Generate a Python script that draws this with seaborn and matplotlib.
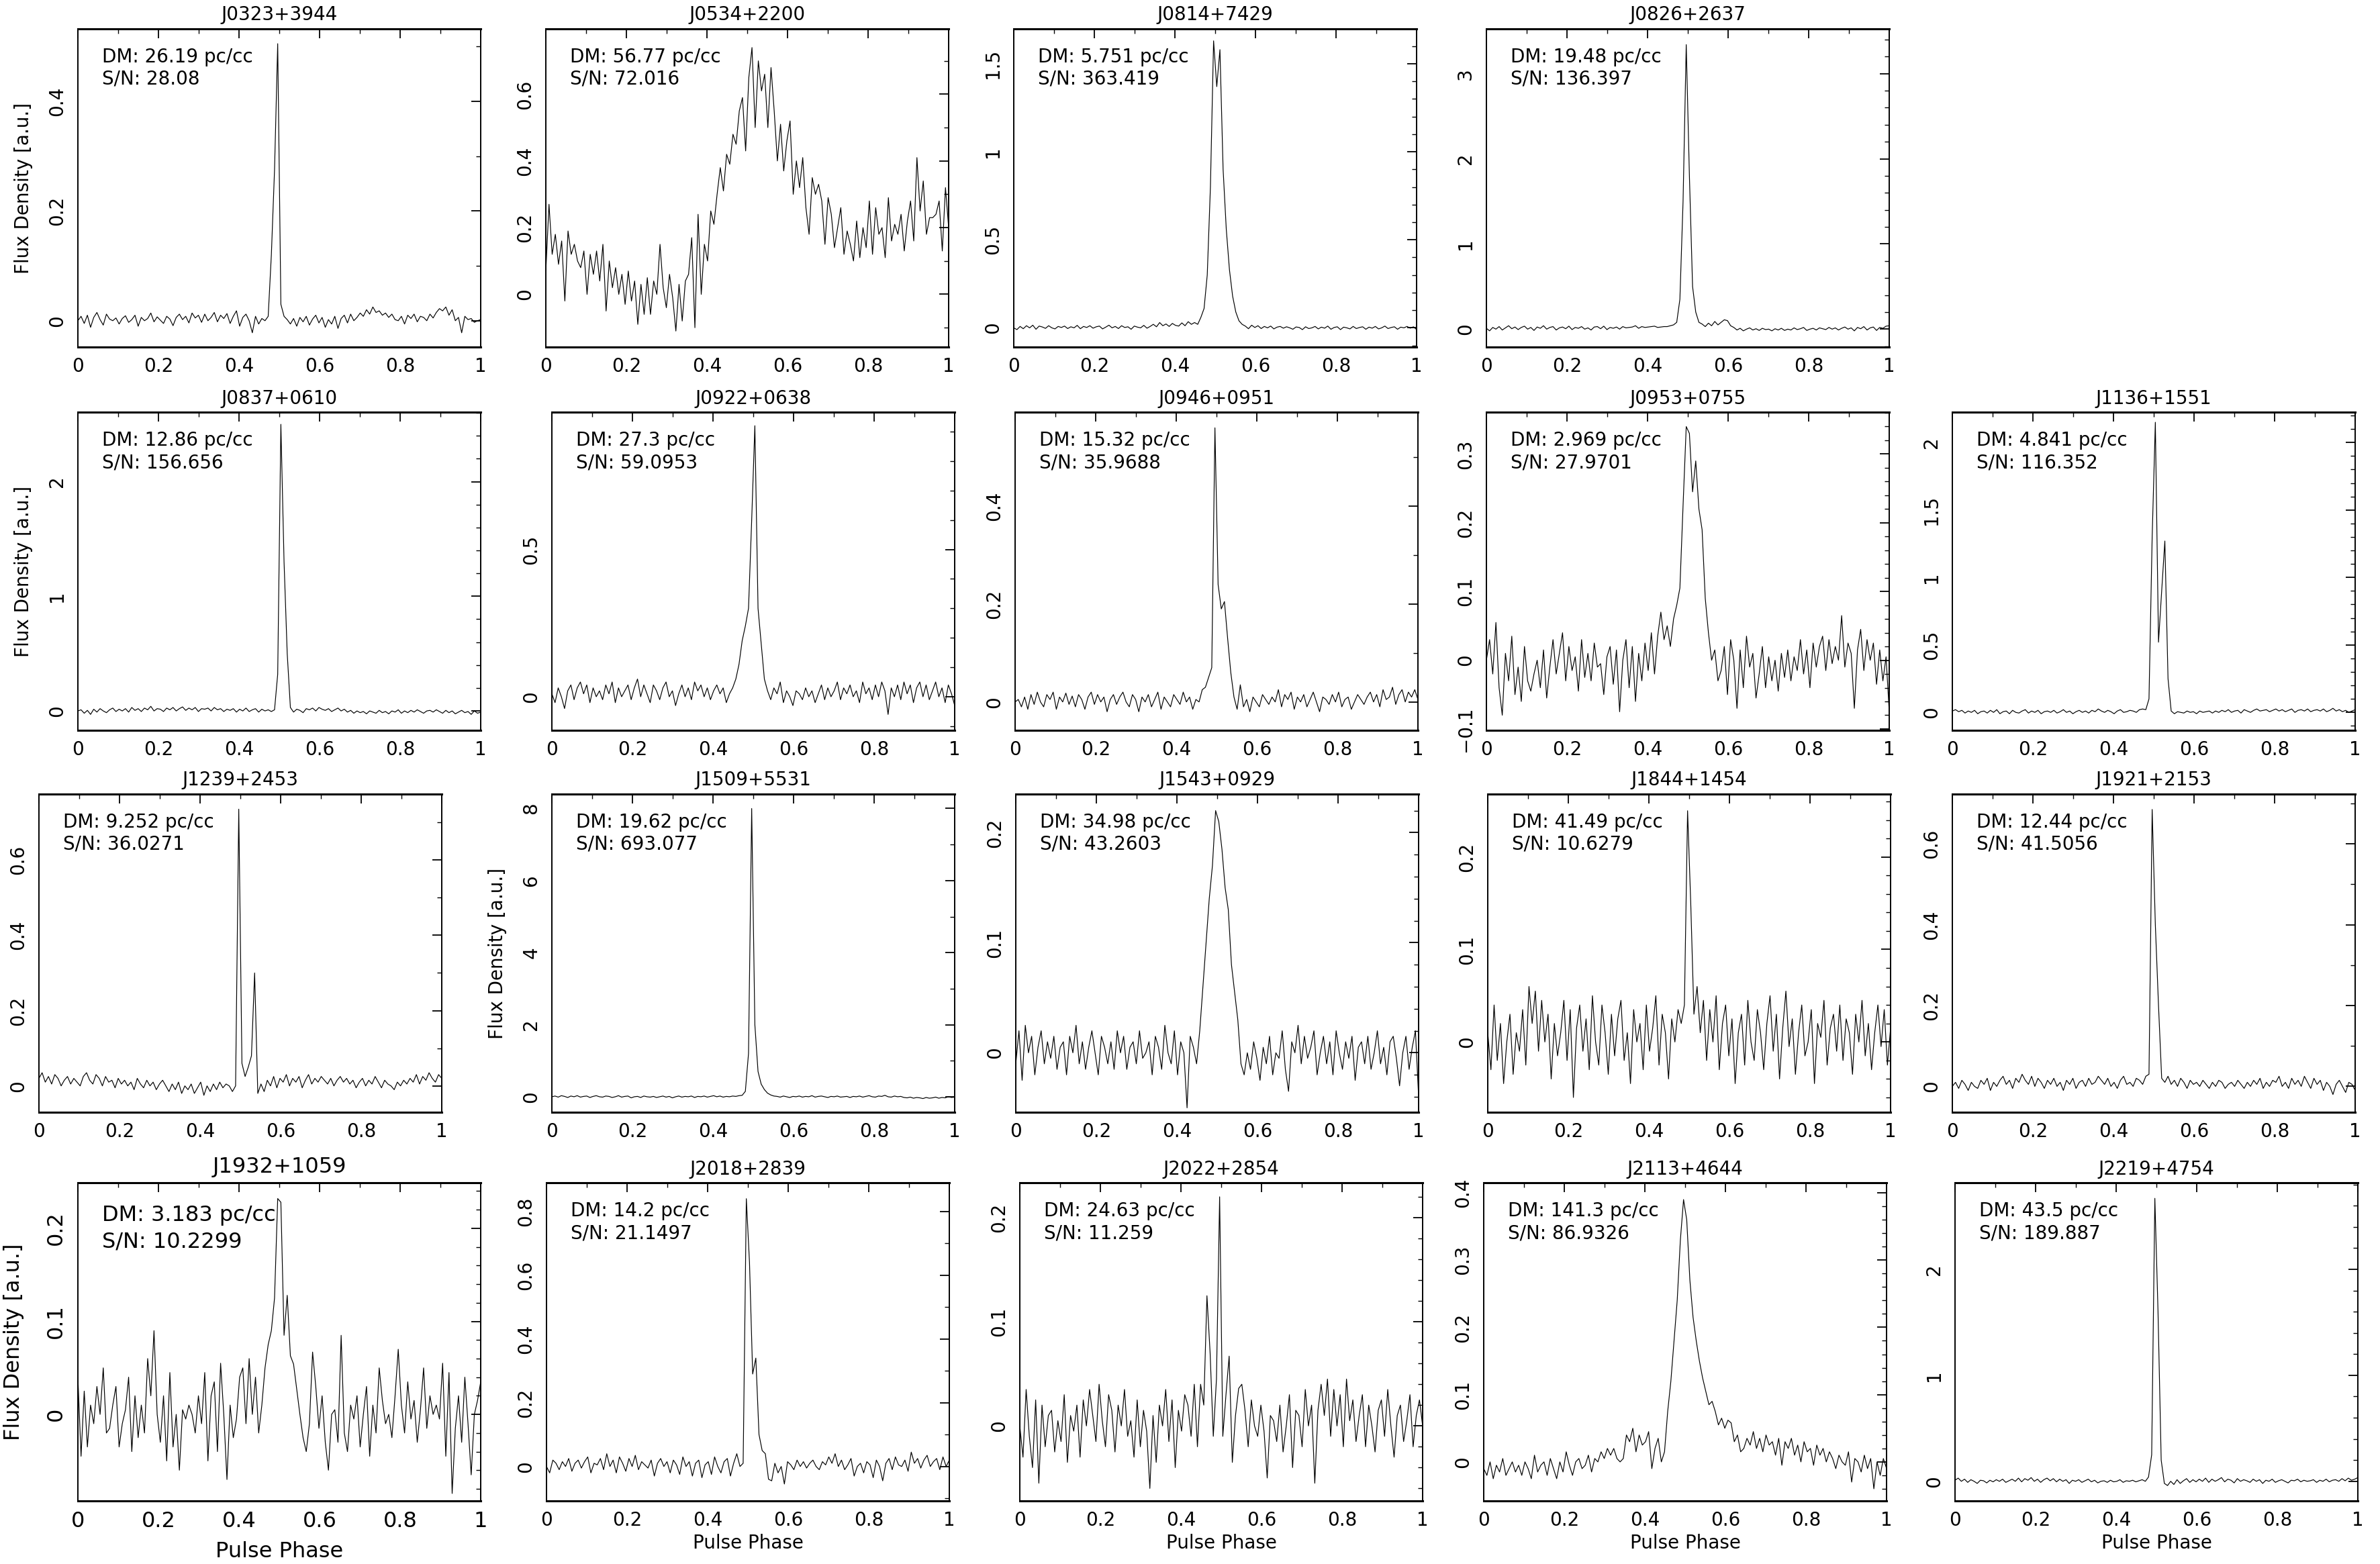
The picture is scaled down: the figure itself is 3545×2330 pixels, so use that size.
import numpy as np
import pandas as pd
import matplotlib
matplotlib.use("Agg")
import matplotlib.pyplot as plt
import seaborn as sns
from matplotlib.ticker import MultipleLocator, FuncFormatter

# pulsar names and the numbers printed inside each panel
names = ['J0323+3944', 'J0534+2200', 'J0814+7429', 'J0826+2637',
         'J0837+0610', 'J0922+0638', 'J0946+0951', 'J0953+0755', 'J1136+1551',
         'J1239+2453', 'J1509+5531', 'J1543+0929', 'J1844+1454', 'J1921+2153',
         'J1932+1059', 'J2018+2839', 'J2022+2854', 'J2113+4644', 'J2219+4754']
dm_vals = ['26.19', '56.77', '5.751', '19.48',
           '12.86', '27.3', '15.32', '2.969', '4.841',
           '9.252', '19.62', '34.98', '41.49', '12.44',
           '3.183', '14.2', '24.63', '141.3', '43.5']
snr_vals = ['28.08', '72.016', '363.419', '136.397',
            '156.656', '59.0953', '35.9688', '27.9701', '116.352',
            '36.0271', '693.077', '43.2603', '10.6279', '41.5056',
            '10.2299', '21.1497', '11.259', '86.9326', '189.887']

# folded profiles, 128 phase bins, flux density in units of 0.001 a.u.
prof_J0323 = [0, 8, -5, 10, -12, 6, 15, 2, -8, 12, 3, 0, 5, -6, 4, 9,
              -3, 2, 10, -10, 6, 0, 4, 14, -2, 7, 1, -5, 8, 3, -9, 6,
              12, 2, 8, -4, 14, 5, 10, -3, 12, 0, 6, 15, -2, 10, 4, 13,
              -5, 8, 18, -10, 6, 12, 0, -22, 8, -6, 4, 0, 8, 120, 275, 505,
              30, 8, 2, -6, 4, -10, 6, -2, 8, -8, 3, 10, -4, 6, -12, 2,
              -6, 8, -14, 4, 10, -4, 12, 0, 6, 14, 8, 20, 12, 25, 15, 18,
              10, 14, 6, 12, 2, 0, 8, -6, 10, 4, 12, -2, 8, 6, 0, 12,
              5, 15, 22, 18, 25, 10, 20, 0, 6, -22, 8, 2, 4, -3, 0, 2]
prof_J0534 = [70, 270, 120, 180, 90, 160, -20, 190, 120, 150, 100, 80, 130, 0, 120, 60,
              130, 40, 150, -50, 100, 20, 80, 0, 60, -30, 70, -20, 40, -90, 30, -60,
              50, -60, 40, 0, 150, 20, -40, 60, -10, -110, 30, -80, 40, 60, 170, -100,
              240, 0, 150, 100, 250, 210, 300, 380, 310, 420, 390, 480, 450, 550, 590, 430,
              650, 740, 500, 700, 610, 660, 500, 680, 550, 400, 510, 370, 460, 520, 300, 400,
              320, 410, 260, 180, 350, 300, 330, 280, 150, 290, 240, 140, 200, 260, 120, 190,
              150, 100, 220, 110, 200, 140, 280, 120, 260, 180, 200, 110, 290, 160, 210, 180,
              240, 130, 220, 280, 160, 410, 250, 340, 180, 230, 230, 240, 280, 130, 320, 200]
prof_J0814 = [0, -10, 8, -5, 12, 0, 15, -8, 10, 5, -3, 12, 0, -6, 8, 2,
              10, -4, 6, 0, 14, -5, 8, 2, 12, -2, 6, 10, -6, 4, 15, 0,
              8, -4, 12, 2, 6, -8, 10, 4, 0, 14, -2, 8, 20, 6, 30, 12,
              22, 8, 25, 14, 10, 28, 12, 35, 20, 30, 20, 60, 110, 300, 800, 1630,
              1370, 1580, 900, 560, 330, 180, 90, 40, 20, 10, -5, 15, 2, 12, -4, 8,
              0, 10, -6, 4, 8, -2, 6, 0, -8, 5, 2, -10, 6, -4, 0, 8,
              -6, 4, -2, 10, -8, 2, 6, -10, 4, 0, -6, 8, -4, 2, 6, -8,
              4, -2, 8, -6, 0, 10, -4, 2, 6, -8, 4, 0, 8, -2, 6, -10]
prof_J0826 = [10, -20, 20, 0, 30, -10, 15, 40, 5, 25, -5, 20, 35, 0, 20, -15,
              25, 10, 40, 0, 20, 30, -10, 15, 25, 5, 35, -5, 20, 10, 30, 0,
              15, -10, 25, 30, 5, 35, -5, 20, 10, 25, 0, 30, 15, 20, 25, 40,
              10, 30, 20, 25, 30, 35, 20, 25, 30, 30, 40, 50, 80, 350, 1500, 3340,
              1800, 500, 200, 80, 60, 30, 70, 40, 90, 50, 80, 110, 100, 40, 20, -10,
              10, -20, 0, 15, -10, 5, -15, 10, -5, 0, -20, 5, -10, 10, -15, 0,
              -10, 15, -5, 5, 20, -15, 0, 10, -10, 15, 5, -5, 20, 0, 15, -10,
              10, 25, 0, 15, -20, 20, 5, 30, -10, 15, 25, -15, 20, 10, 35, 40]
prof_J0837 = [0, 10, -20, 5, -30, 15, -10, 20, 0, -15, 10, 25, -5, 15, 0, 20,
              -10, 30, 5, 20, -5, 25, 10, 40, 0, 20, 15, -5, 25, 10, 30, 0,
              20, 35, 5, 25, 10, 30, -5, 20, 15, 25, 0, 30, 10, 20, -5, 15,
              5, 20, -10, 15, 0, 25, -5, 10, 20, -10, 15, 0, 10, -5, 10, 320,
              2500, 1300, 500, 30, -10, 15, 5, -15, 20, 10, 25, 0, 30, 15, 5, 20,
              -5, 10, 25, 0, 15, -10, 5, -20, 0, -15, -5, -25, 0, -10, -20, 5,
              -15, -5, -25, 0, -10, 10, -20, 0, -15, 5, -10, 10, -5, -20, 0, 5,
              -10, 10, -5, -20, 5, -15, 0, -25, -10, 5, -15, -5, -30, 0, -20, -10]
prof_J0922 = [10, -20, 30, 0, -40, 20, 40, -10, 30, 50, 10, 40, -20, 30, 0, 20,
              -10, 40, 10, 50, -20, 30, 0, 20, 40, -10, 30, 60, 0, 40, 10, -20,
              40, 20, -10, 30, 50, 0, 20, -30, 10, 40, 0, 30, -10, 50, 20, 40,
              0, 30, -10, 20, 40, 10, 30, -20, 10, 30, 60, 110, 190, 240, 300, 600,
              920, 300, 180, 60, 20, -10, 30, 10, 50, -20, 20, 0, -30, 20, 10, -10,
              30, 0, 20, -20, 10, 40, -10, 30, 0, 20, 50, -10, 30, 10, 40, 0,
              20, -20, 50, 10, 30, -10, 40, 0, 50, 20, -60, 30, 0, 40, -10, 50,
              10, 40, -20, 30, 50, 0, 40, -10, 20, 50, 0, 30, -20, 40, 10, -30]
prof_J0946 = [0, 5, -10, 10, -15, 15, -5, 20, 0, -10, 15, 5, 20, -15, 10, 0,
              18, -5, 12, -10, 15, 5, -15, 10, 20, -5, 15, 0, 10, -20, 5, 15,
              -5, 10, 20, 0, -10, 15, 5, -20, 10, 0, 15, -10, 5, 20, -15, 10,
              0, -10, 15, 5, -5, 20, 0, 10, -15, 5, 0, 25, 30, 50, 70, 560,
              240, 190, 205, 130, 60, 10, -15, 35, -10, 5, -20, 10, 0, -10, 15, 5,
              -5, 10, 0, 25, -10, 15, 5, 20, -15, 10, 0, 15, -10, 5, 20, 0,
              -20, 10, 5, -5, 15, 0, 20, -10, 5, 10, -15, 0, 15, 5, -5, 10,
              20, 0, 15, -10, 25, 5, 10, 30, -5, 15, 25, 0, 20, 10, 25, 5]
prof_J0953 = [0, 30, -20, 55, -40, -80, 10, -30, 35, -50, -10, -60, 20, -30, -45, -20,
              0, -40, 15, -55, -10, 30, -20, 10, 40, -30, 20, -15, 5, -45, 30, -25,
              10, -30, 25, -10, -5, -50, 5, 20, -35, 15, -75, 0, 30, -40, 20, -60,
              10, -30, 25, -15, 40, -20, 35, 70, 30, 50, 20, 60, 80, 105, 225, 340,
              330, 245, 290, 220, 190, 90, 40, 0, 15, -30, -15, 20, -50, 30, 0, -70,
              15, -40, 35, -10, 10, -55, -20, 20, -40, 5, -30, 0, -45, 10, -25, 15,
              -30, 5, -15, 30, -20, 15, -40, 25, -10, 20, 35, -15, 30, -5, 20, 0,
              65, -10, 25, 10, -70, 15, 45, -15, 30, 0, 25, -35, 15, -30, 5, -75]
prof_J1136 = [10, 20, 5, 15, -5, 10, 0, 15, -10, 5, 10, -5, 15, 0, 20, -10,
              5, 10, -10, 15, 0, -5, 10, 20, -5, 10, 0, 15, -10, 5, 10, 0,
              15, -5, 5, 20, 0, 10, -10, 5, 15, 0, 10, -5, 15, 5, 25, 10,
              0, 15, 5, -10, 10, 20, 0, 5, 15, 10, 0, 20, 25, 20, 100, 1300,
              2150, 520, 900, 1270, 250, 10, -10, 5, 0, -5, 10, 0, 5, -10, 10, 0,
              5, 10, -5, 10, 0, 15, 5, 20, 0, 10, 15, -5, 20, 10, 0, 15,
              25, 10, 15, 20, 5, 15, 25, 10, 20, 5, 15, 25, 0, 15, 20, 10,
              25, 5, 15, 20, 10, 25, 5, 15, 30, 10, 20, 5, 15, 0, 10, 20]
prof_J1239 = [20, 35, 10, 25, 5, 30, 20, 0, 15, 25, 5, 20, 10, 0, 25, 35,
              15, 5, 30, 20, 0, 25, 10, 15, -5, 20, 5, 15, 0, 10, -10, 20,
              5, -5, 15, 0, 10, -10, 5, 15, 0, -15, 5, -10, 10, -20, 0, -10,
              5, -20, -5, 10, -25, 0, -15, 5, -10, 10, -5, 5, 0, -15, 0, 735,
              60, 25, 50, 80, 300, -20, 5, -15, 15, 0, 25, -5, 20, 10, 30, 0,
              20, 10, 25, -5, 15, 30, 5, 20, 10, 25, 15, 5, 20, 0, 15, 25,
              10, 20, 5, 15, -5, 10, 20, 0, 15, 5, 25, 10, -5, 15, 5, 0,
              -10, 10, 0, 15, 5, 20, 10, 30, 5, 25, 15, 35, 20, 10, 30, 20]
prof_J1509 = [0, 20, -10, 30, 10, -20, 20, 0, 30, -10, 10, 20, -20, 10, 30, 0,
              -10, 20, 10, -20, 0, 30, -10, 10, 20, -30, 0, 10, -20, 20, 0, -10,
              10, -20, 0, 20, -10, 10, -30, 0, 20, -10, 10, 0, 20, -20, 10, 0,
              20, -10, 10, 30, 0, 20, -10, 10, 0, 20, 10, 30, 40, 150, 1200, 8000,
              2000, 700, 350, 200, 100, 50, 20, 10, -10, 20, 0, -20, 10, 0, 20, -10,
              10, 0, 30, -10, 10, 20, 0, -20, 10, 0, 20, -10, 0, 10, -20, 10,
              0, 20, -10, 10, 30, 0, -10, 20, 10, 40, 0, -10, 20, 0, 10, -20,
              -30, -10, -40, -20, -30, -50, -20, -40, -30, -10, -40, -20, -30, 0, -20, -10]
prof_J1543 = [-10, 20, -25, 25, 0, 15, -20, 5, 20, -10, 10, -5, 15, -15, 5, 10,
              -20, 15, 0, 25, -10, 10, -15, 5, 20, 0, -20, 15, 5, -10, 10, -15,
              20, 0, 15, -15, 5, 10, -10, 20, -5, 0, 10, -20, 15, 5, -15, 25,
              0, -10, 20, -20, 10, 0, -50, 15, 5, -10, 20, 60, 100, 140, 170, 220,
              210, 185, 150, 130, 80, 55, 30, -10, -20, 0, -15, 10, -5, -25, 5, -10,
              15, -20, 0, -5, 20, -15, -35, 10, 0, 25, -10, 15, -5, 5, 20, -20,
              0, 15, -10, 10, -20, 20, 0, -15, 10, -5, 15, -25, 5, 10, -10, 15,
              -15, 0, 20, -10, 5, -20, 10, 15, -5, -30, 0, 15, -15, 5, 20, -40]
prof_J1844 = [10, -30, 40, -20, 20, -45, 0, 30, -35, 10, -10, 35, -25, 60, 20, 55,
              -10, 45, 0, 30, -40, 20, -15, 10, 45, -20, 35, -60, 15, 40, -10, 25,
              -30, 50, 0, -25, 40, 10, -35, 30, -15, 25, 45, -20, 10, -45, 35, 0,
              20, -30, 40, -10, 15, 50, -25, 30, 10, -40, 25, 0, 35, 20, 40, 250,
              150, 30, 60, 10, 45, -20, 35, 0, 50, -30, 20, 40, -15, 25, -45, 10,
              30, -25, 45, 0, -20, 35, 10, -30, 20, 50, -10, 30, -40, 15, 55, -5,
              25, -35, 10, 40, -15, 0, 35, -45, 20, 5, 45, -25, 15, 30, -10, 40,
              -20, 25, 10, -35, 30, 0, 45, -15, 20, -30, 10, 40, -5, 35, -25, 15]
prof_J1921 = [0, 10, -5, 15, 5, -10, 10, 0, -5, 15, 5, 20, -10, 10, 0, 15,
              25, 5, 15, -5, 20, 10, 30, 15, 5, 25, 0, 20, 10, -5, 15, 5,
              20, 0, 10, -10, 15, 5, 20, -5, 10, 15, 0, 20, 5, 10, 25, 15,
              5, 20, 0, 10, -5, 15, 25, 5, 10, 0, 20, 15, 5, 25, 30, 685,
              400, 200, 20, 10, 25, 5, 15, 0, 20, 10, -5, 15, 5, 10, 0, 15,
              5, -5, 10, 0, 15, 10, -5, 5, 10, 0, 15, 5, -5, 10, 0, 15,
              5, 20, -5, 10, 0, 15, 10, 25, 0, 10, -5, 20, 5, 15, 0, 25,
              10, -5, 20, 5, 15, -10, 10, 0, -20, 5, 15, 0, -15, 10, 5, -10]
prof_J1932 = [40, -45, 25, -35, 10, -10, 30, 0, 50, -20, -15, 10, 30, -35, -10, 5,
              40, -40, 20, -25, 10, -20, 60, 20, 90, 0, -30, 20, -50, 45, -35, 0,
              -60, 5, -5, 10, 0, -20, 20, -10, 45, -50, 20, 35, -40, 55, 0, -70,
              10, -25, -5, 40, 50, -10, 60, 0, 40, -20, 10, 50, 75, 90, 125, 232,
              228, 85, 128, 63, 54, 27, 0, -25, -40, -10, 67, 30, -15, 20, -30, -60,
              0, 5, -30, 85, -20, -40, 10, -5, 20, -35, 0, 30, -45, 10, -20, 50,
              15, -10, 0, -25, 20, 70, 10, -20, 35, -5, 15, -30, 5, 50, -15, 20,
              0, 10, -5, 55, -45, 45, -85, -15, 20, -30, 40, -10, -65, 0, 15, 35]
prof_J2018 = [0, -20, 20, 10, -10, 15, 0, 25, -15, 10, 20, -5, 15, 30, -20, 10,
              5, 25, -10, 40, 0, 20, -20, 30, 10, -15, 25, 0, 35, -10, 15, 5,
              -5, 20, -30, 10, 25, 0, 15, -20, 20, 5, -25, 30, 0, 15, -30, 10,
              20, -35, 5, 15, -25, 30, 0, -20, 15, 25, -30, 10, 40, 0, 10, 840,
              640, 290, 340, 100, 50, 40, -40, -45, 10, -20, 0, -55, 15, 5, -10, 20,
              0, 15, -5, 10, 20, 0, -10, 15, 5, 30, 10, 40, 0, 20, -10, 5,
              25, -30, 0, 10, -20, 15, 5, -35, 20, 0, -45, 10, 25, -10, 30, 5,
              0, 20, -15, 45, 10, 25, -5, 20, 35, 0, 15, 25, -10, 30, 0, 20]
prof_J2022 = [0, -30, 35, -10, -40, 25, -55, 20, -20, 10, 15, -25, 5, -15, 30, -35,
              10, -5, 20, -30, 25, 0, 35, 10, -15, 40, 5, -20, 30, 15, -25, 20,
              0, 35, -10, 5, -30, 25, -20, 15, -5, -60, 10, -35, 20, 0, 35, -15,
              25, -40, 15, -5, 30, 20, -10, 40, -20, 40, 20, 125, 70, -10, 45, 220,
              -10, 30, 67, -35, 10, 36, 40, 15, -20, 25, 0, -10, 20, -5, -50, 10,
              5, -15, 20, -25, 0, 30, -40, 15, 10, -20, 35, 0, 20, -55, 15, 40,
              10, 45, -10, 35, 0, 30, -20, 45, 5, 25, -15, 10, 30, -20, 20, 0,
              -25, 15, 25, -10, 35, 0, -30, 10, 20, -15, 5, 30, -20, 10, 25, 0]
prof_J2113 = [-10, -20, 0, -25, -5, -15, 5, -20, -10, 0, -15, -5, -20, 0, -10, -25,
              10, -15, -5, 0, -20, 5, -10, -25, 0, -15, 15, -5, -20, 0, 5, -10,
              -5, 10, -15, 5, 0, 15, 5, 20, 10, 20, 5, 0, 5, 40, 30, 50,
              15, 40, 25, 30, 45, -10, 20, 35, 0, 15, 75, 120, 180, 240, 330, 390,
              360, 270, 215, 180, 150, 125, 105, 85, 90, 75, 55, 65, 50, 62, 58, 30,
              40, 15, 20, 35, 25, 45, 20, 35, 15, 40, 25, 30, 10, 35, -5, 30,
              20, 35, 10, 25, 0, 30, 15, 20, -5, 25, 10, 20, 0, 15, 5, -10,
              10, 0, -5, 15, -30, 5, 0, -15, 10, -10, 5, -40, 0, -20, 5, -10]
prof_J2219 = [10, 30, 0, 20, -10, 15, 0, -20, 10, 5, -15, 10, -5, 15, 0, 20,
              -10, 5, 20, 0, 30, -5, 25, 10, 35, 0, 20, -10, 15, 30, 5, 25,
              -5, 20, 0, 15, -20, 10, 0, 15, -10, 5, 20, -5, 10, -15, 0, 5,
              -10, 10, -5, 0, 15, -10, 5, 0, 10, -5, 5, 15, 0, 40, 250, 2670,
              1600, 200, -20, -40, 0, -30, 15, -20, 5, 25, -10, 15, -5, 20, 0, 30,
              -10, 20, 0, 15, 35, -5, 20, 10, -15, 25, 0, 15, 5, -10, 20, 0,
              15, -20, 10, 0, 20, -10, 5, 15, 0, -15, 10, 5, 20, -5, 10, 0,
              5, 15, -10, 10, 0, 20, -5, 10, 15, 0, 25, 5, 30, 10, 20, 35]

profiles = [prof_J0323, prof_J0534, prof_J0814, prof_J0826,
            prof_J0837, prof_J0922, prof_J0946, prof_J0953, prof_J1136,
            prof_J1239, prof_J1509, prof_J1543, prof_J1844, prof_J1921,
            prof_J1932, prof_J2018, prof_J2022, prof_J2113, prof_J2219]

# y axis range and tick steps of each panel
ylims = [(-0.048, 0.532), (-0.158, 0.796), (-0.109, 1.698), (-0.21, 3.525),
         (-0.169, 2.606), (-0.114, 0.966), (-0.058, 0.592), (-0.102, 0.361), (-0.133, 2.225),
         (-0.070, 0.775), (-0.43, 8.40), (-0.054, 0.235), (-0.076, 0.268), (-0.064, 0.723),
         (-0.093, 0.249), (-0.108, 0.890), (-0.072, 0.2335), (-0.058, 0.415), (-0.185, 2.817)]
ymajor = [0.2, 0.2, 0.5, 1, 1, 0.5, 0.2, 0.1, 0.5, 0.2, 2, 0.1, 0.1, 0.2, 0.1, 0.2, 0.1, 0.1, 1]
yminor = [0.1, 0.1, 0.1, 0.2, 0.2, 0.1, 0.1, 0.02, 0.1, 0.1, 1, 0.02, 0.02, 0.1, 0.02, 0.1, 0.02, 0.02, 0.2]

# panel placement in pixels (left, top) on the 3545 x 2330 canvas
W, H = 3545, 2330
box_w, box_h = 600, 474
lefts = [116, 813, 1510, 2214,
         116, 822, 1512, 2214, 2908,
         58, 822, 1513, 2216, 2908,
         116, 814, 1519, 2210, 2912]
tops = [43] * 4 + [614] * 5 + [1183] * 5 + [1762] * 5
ylabel_panels = {0, 4, 10, 14}
xlabel_panels = {14, 15, 16, 17, 18}
big_font_panel = 14

sns.set_theme(style="white")
plt.rcParams['font.family'] = ['DejaVu Sans']


def fmt(v, pos):
    return f"{round(v, 6):g}".replace('-', '\u2212')


fig = plt.figure(figsize=(W / 100, H / 100), dpi=100)
fig.patch.set_facecolor('white')
axes = []

for k, name in enumerate(names):
    left, top = lefts[k], tops[k]
    big = k == big_font_panel
    ax = fig.add_axes([left / W, 1 - (top + box_h) / H, box_w / W, box_h / H])
    fs = 23 if big else 20

    prof = np.array(profiles[k]) / 1000.0
    df = pd.DataFrame({'phase': np.arange(len(prof)) / (len(prof) - 1), 'flux': prof})
    sns.lineplot(data=df, x='phase', y='flux', ax=ax, color='black',
                 linewidth=0.85, sort=False, estimator=None)

    ax.set_xlim(0, 1)
    ax.set_ylim(*ylims[k])
    ax.xaxis.set_major_locator(MultipleLocator(0.2))
    ax.xaxis.set_minor_locator(MultipleLocator(0.1))
    ax.yaxis.set_major_locator(MultipleLocator(ymajor[k]))
    ax.yaxis.set_minor_locator(MultipleLocator(yminor[k]))
    ax.xaxis.set_major_formatter(FuncFormatter(fmt))
    ax.yaxis.set_major_formatter(FuncFormatter(fmt))
    ax.tick_params(which='both', direction='in', top=True, right=True,
                   colors='black', labelsize=fs)
    ax.tick_params(which='major', length=10, width=1.3)
    ax.tick_params(which='minor', length=5, width=1.0)
    ax.tick_params(axis='x', pad=11)
    ax.tick_params(axis='y', pad=12, labelrotation=90)
    for sp in ax.spines.values():
        sp.set_color('black')
        sp.set_linewidth(1.4)
    ax.spines['top'].set_linewidth(2.2)
    ax.spines['bottom'].set_linewidth(2.2)

    ax.set_title(name, fontsize=fs, pad=11 if big else 9, color='black')
    ax.text(0.06, 1 - (48 if big else 42) / box_h,
            f'DM: {dm_vals[k]} pc/cc', transform=ax.transAxes,
            fontsize=fs, ha='left', va='center', color='black')
    ax.text(0.06, 1 - (88 if big else 75) / box_h,
            f'S/N: {snr_vals[k]}', transform=ax.transAxes,
            fontsize=fs, ha='left', va='center', color='black')

    if k in ylabel_panels:
        ax.set_ylabel('Flux Density [a.u.]', fontsize=fs, va='center', color='black')
        ax.yaxis.set_label_coords(-(96 if big else 81) / box_w, 0.5)
    else:
        ax.set_ylabel('')
    if k in xlabel_panels:
        ax.set_xlabel('Pulse Phase', fontsize=fs, va='center', color='black')
        ax.xaxis.set_label_coords(0.5, -(76 if big else 63) / box_h)
    else:
        ax.set_xlabel('')
    axes.append(ax)

fig.canvas.draw()
for ax in axes:
    plt.setp(ax.get_yticklabels(), va='center', rotation=90)

fig.savefig('out.png', dpi=100, facecolor='white')
